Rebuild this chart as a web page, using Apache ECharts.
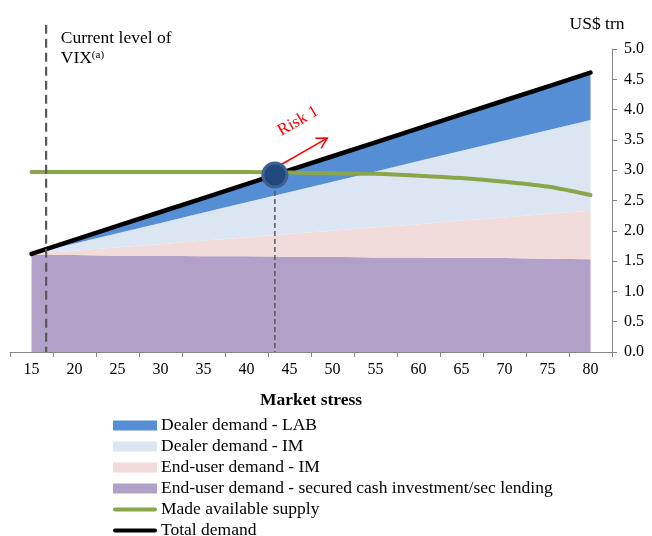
<!DOCTYPE html>
<html>
<head>
<meta charset="utf-8">
<script src="https://cdn.jsdelivr.net/npm/echarts@6/dist/echarts.min.js"></script>
<style>html,body{margin:0;padding:0;background:#fff;}#c{width:652px;height:536px;}</style>
</head>
<body>
<div id="c"></div>
<script>
var categories = ['15','20','25','30','35','40','45','50','55','60','65','70','75','80'];
var securedCash = [1.60,1.60,1.59,1.59,1.58,1.58,1.57,1.57,1.56,1.56,1.55,1.55,1.54,1.53];
var endUserIM = [0.02,0.07,0.14,0.19,0.26,0.31,0.38,0.43,0.50,0.55,0.62,0.67,0.74,0.80];
var dealerIM = [0.00,0.12,0.23,0.35,0.46,0.58,0.69,0.81,0.92,1.04,1.15,1.27,1.38,1.50];
var dealerLAB = [0.00,0.06,0.12,0.18,0.24,0.30,0.36,0.42,0.48,0.54,0.60,0.66,0.72,0.78];
var supply = [2.97,2.97,2.97,2.97,2.97,2.97,2.96,2.95,2.94,2.91,2.87,2.81,2.73,2.59];
var totalDemand = [1.62,1.85,2.08,2.31,2.54,2.77,3.00,3.23,3.46,3.69,3.92,4.15,4.38,4.61];
var currentVIX = 16.7;
var riskPoint = [43.3, 2.92];
var riskArrow = [[44.0, 3.09],[49.4, 3.53]];

var F = 'Liberation Serif, Times New Roman, serif';
var chart = echarts.init(document.getElementById('c'));

function areaSeries(name, data, color){
  return {name:name, type:'line', xAxisIndex:0, stack:'d', data:data, symbol:'none',
    color:color, lineStyle:{width:0}, areaStyle:{color:color, opacity:1}, z:2};
}
var rectIcon = 'rect';
var lineIcon = 'path://M0,0 L0.01,0 L0,0.01 Z M2,3 L42,3 A2,2 0 0 1 42,7 L2,7 A2,2 0 0 1 2,3 Z M44,10 L43.99,10 L44,9.99 Z';

var option = {
  animation:false,
  textStyle:{fontFamily:F},
  grid:{left:10, right:40, top:49, bottom:184},
  xAxis:[
    {type:'category', data:categories, boundaryGap:true, position:'bottom',
     name:'Market stress', nameLocation:'middle', nameGap:39,
     nameTextStyle:{fontFamily:F, fontSize:17.5, fontWeight:'bold', color:'#000'},
     axisLine:{lineStyle:{color:'#868686', width:1}},
     axisTick:{show:true, length:5, lineStyle:{color:'#868686'}},
     axisLabel:{fontFamily:F, fontSize:16, color:'#000', margin:10}},
    {type:'value', min:12.5, max:82.5, show:false}
  ],
  yAxis:{type:'value', position:'right', min:0, max:5, interval:0.5,
    name:'US$ trn', nameLocation:'end', nameGap:16,
    nameTextStyle:{fontFamily:F, fontSize:17.5, color:'#000', align:'center', padding:[0,30,0,0]},
    axisLine:{show:true, lineStyle:{color:'#868686'}},
    axisTick:{show:true, inside:false, length:5, lineStyle:{color:'#868686'}},
    splitLine:{show:false},
    axisLabel:{fontFamily:F, fontSize:16, color:'#000', margin:12, formatter:function(v){return v.toFixed(1);}}},
  legend:{orient:'vertical', left:113, top:415, height:130, padding:0, itemWidth:44, itemHeight:10, itemGap:0,
    textStyle:{fontFamily:F, fontSize:17.5, color:'#000', lineHeight:21, padding:[0,0,0,-1]},
    data:[
      {name:'Dealer demand - LAB', icon:rectIcon},
      {name:'Dealer demand - IM', icon:rectIcon},
      {name:'End-user demand - IM', icon:rectIcon},
      {name:'End-user demand - secured cash investment/sec lending', icon:rectIcon},
      {name:'Made available supply', icon:lineIcon},
      {name:'Total demand', icon:lineIcon}
    ]},
  series:[
    areaSeries('End-user demand - secured cash investment/sec lending', securedCash, '#B1A0C7'),
    areaSeries('End-user demand - IM', endUserIM, '#F2DCDB'),
    areaSeries('Dealer demand - IM', dealerIM, '#DCE6F2'),
    areaSeries('Dealer demand - LAB', dealerLAB, '#558ED5'),
    {name:'Total demand', type:'line', data:totalDemand, symbol:'none', color:'#000',
      lineStyle:{width:4.5, color:'#000', cap:'round'}, z:4},
    {name:'Made available supply', type:'line', data:supply, symbol:'none', smooth:0.3,
      color:'#8AA64A', lineStyle:{width:4, color:'#8AA64A', cap:'round'}, z:5}
  ]
};
chart.setOption(option);

function px(p){ return chart.convertToPixel({xAxisIndex:1, yAxisIndex:0}, p); }
var vTop = px([currentVIX, 5.4]), vBot = px([currentVIX, 0]);
var rp = px(riskPoint), rb = px([riskPoint[0], 0]);
var a0 = px(riskArrow[0]), a1 = px(riskArrow[1]);
var ang = Math.atan2(a1[1]-a0[1], a1[0]-a0[0]);
var hl = 12, ha = 0.5;
var h1 = [a1[0]-hl*Math.cos(ang-ha), a1[1]-hl*Math.sin(ang-ha)];
var h2 = [a1[0]-hl*Math.cos(ang+ha), a1[1]-hl*Math.sin(ang+ha)];
var vText = px([currentVIX+1.7, 5.34]);
var rText = px([46.0, 3.81]);

chart.setOption({graphic:[
  {type:'line', shape:{x1:vTop[0], y1:vTop[1], x2:vBot[0], y2:vBot[1]}, z:10,
    style:{stroke:'#595959', lineWidth:2.2, lineDash:[9,5]}},
  {type:'line', shape:{x1:rb[0], y1:rp[1], x2:rb[0], y2:rb[1]}, z:10,
    style:{stroke:'#595959', lineWidth:1.5, lineDash:[5,3]}},
  {type:'polyline', shape:{points:[a0, a1]}, z:11, style:{stroke:'#FF0000', lineWidth:1.5, fill:null}},
  {type:'polyline', shape:{points:[h1, a1, h2]}, z:11, style:{stroke:'#FF0000', lineWidth:1.5, fill:null}},
  {type:'circle', shape:{cx:rp[0], cy:rp[1], r:12}, z:12,
    style:{fill:'#1F497D', stroke:'#40618F', lineWidth:3}},
  {type:'text', x:vText[0], y:vText[1], z:12,
    style:{text:'Current level of\nVIX{s|(a)}', font:'17.5px ' + F, fill:'#000', lineHeight:20,
      rich:{s:{fontSize:11, fontFamily:F, fill:'#000', padding:[0,0,7,0]}}}},
  {type:'text', x:rText[0], y:rText[1], rotation:Math.PI/6, z:12,
    style:{text:'Risk 1', font:'17px ' + F, fill:'#FF0000', align:'center', verticalAlign:'middle'}}
]});
</script>
</body>
</html>
